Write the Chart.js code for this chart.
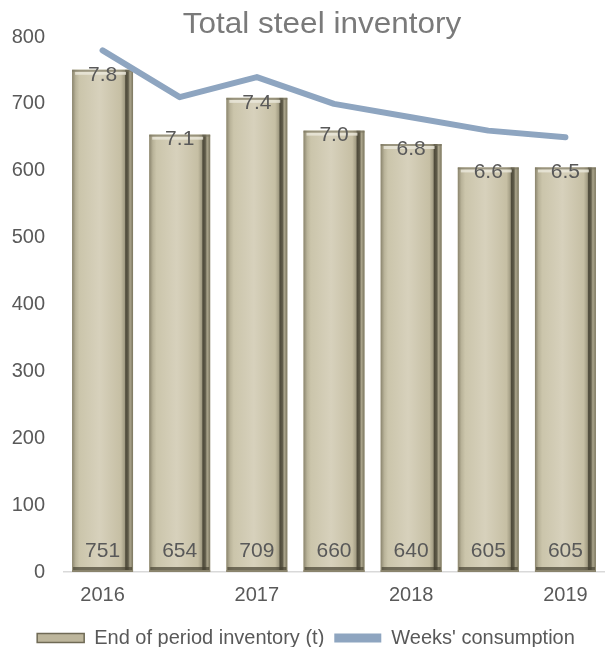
<!DOCTYPE html>
<html>
<head>
<meta charset="utf-8">
<script src="https://cdn.jsdelivr.net/npm/chart.js@4"></script>
<style>
  body { margin: 0; background: #fff; }
</style>
</head>
<body>
<canvas id="grafico" width="608" height="647"></canvas>
<script>
var periodos = ['2016 H1', '2016 H2', '2017 H1', '2017 H2', '2018 H1', '2018 H2', '2019 H1'];
var etiquetasX = ['2016', '', '2017', '', '2018', '', '2019'];
var inventario = [751, 654, 709, 660, 640, 605, 605];
var semanas = [7.8, 7.1, 7.4, 7.0, 6.8, 6.6, 6.5];

var fuente = '"Liberation Sans", Arial, sans-serif';

// bevel look for the bars (drawn right after the bar dataset, under the line)
var plugBarras = {
    id: 'plugBarras',
    afterDatasetDraw: function(chart, args) {
        if (args.index !== 1) return;
        var ctx = chart.ctx;
        var barras = args.meta.data;
        ctx.save();
        for (var i = 0; i < barras.length; i++) {
            var b = barras[i];
            var x0 = b.x - b.width / 2, x1 = b.x + b.width / 2;
            var y0 = b.y, y1 = b.base, h = y1 - y0;
            var g = ctx.createLinearGradient(x0, 0, x1, 0);
            g.addColorStop(0, '#8a846d');
            g.addColorStop(0.06, '#b9b399');
            g.addColorStop(0.12, '#cbc5ab');
            g.addColorStop(0.45, '#d7d1bc');
            g.addColorStop(0.8, '#c6bfa4');
            g.addColorStop(0.86, '#a39d84');
            g.addColorStop(0.88, '#4e4a3a');
            g.addColorStop(0.92, '#5f5b49');
            g.addColorStop(0.95, '#aba58c');
            g.addColorStop(1, '#7b765f');
            ctx.fillStyle = g;
            ctx.fillRect(x0, y0, b.width, h);
            // top bevel
            ctx.fillStyle = 'rgba(235,232,220,0.8)';
            ctx.fillRect(x0 + 3, y0 + 2, b.width - 10, 3);
            ctx.fillStyle = 'rgba(120,115,95,0.6)';
            ctx.fillRect(x0, y0, b.width, 2);
            // bottom bevel
            ctx.fillStyle = 'rgba(70,66,50,0.7)';
            ctx.fillRect(x0 + 1, y1 - 5, b.width - 2, 3);
            ctx.fillStyle = '#8a846d';
            ctx.fillRect(x0, y1 - 2, b.width, 2);
        }
        ctx.restore();
    },
    afterDatasetsDraw: function(chart) {
        var ctx = chart.ctx;
        var barras = chart.getDatasetMeta(1).data;
        ctx.save();
        ctx.fillStyle = '#595959';
        ctx.font = '21px ' + fuente;
        ctx.textAlign = 'center';
        ctx.textBaseline = 'middle';
        for (var i = 0; i < barras.length; i++) {
            var b = barras[i];
            ctx.fillText(inventario[i], b.x, b.base - 21);
            ctx.fillText(semanas[i].toFixed(1), b.x, b.y + 5);
        }
        // title
        ctx.fillStyle = '#7a7a7a';
        ctx.font = '30px ' + fuente;
        ctx.translate(322, 25);
        ctx.scale(1.05, 1);
        ctx.fillText('Total steel inventory', 0, 0);
        ctx.restore();
    }
};

var ctx = document.getElementById('grafico');
var myChart = new Chart(ctx, {
    type: 'bar',
    data: {
        labels: periodos,
        datasets: [{
            type: 'line',
            label: "Weeks' consumption",
            data: semanas,
            yAxisID: 'y2',
            borderColor: '#8ea5c0',
            backgroundColor: '#8ea5c0',
            borderWidth: 6,
            borderCapStyle: 'round',
            borderJoinStyle: 'round',
            pointRadius: 0,
            tension: 0,
            order: 0
        }, {
            label: 'End of period inventory (t)',
            data: inventario,
            yAxisID: 'y',
            backgroundColor: '#cfc9b0',
            borderColor: '#8a8570',
            borderWidth: 0,
            categoryPercentage: 1,
            barPercentage: 0.79,
            order: 1
        }]
    },
    options: {
        responsive: false,
        animation: false,
        layout: { padding: { top: 37, left: 8, right: 4, bottom: -11 } },
        scales: {
            x: {
                grid: { display: false, drawTicks: false },
                border: { color: '#d9d9d9', width: 1.5 },
                ticks: {
                    padding: 11,
                    color: '#595959',
                    font: { size: 20, family: fuente },
                    maxRotation: 0,
                    autoSkip: false,
                    callback: function(v, i) { return etiquetasX[i]; }
                },
                afterFit: function(s) { s.height = 46; }
            },
            y: {
                min: 0,
                max: 800,
                grid: { display: false, drawTicks: false },
                border: { display: false },
                ticks: {
                    stepSize: 100,
                    padding: 19,
                    color: '#595959',
                    font: { size: 20, family: fuente }
                },
                afterFit: function(s) { s.width = 56; }
            },
            y2: {
                display: false,
                min: 0,
                max: 8
            }
        },
        plugins: {
            title: { display: false },
            tooltip: { enabled: false },
            legend: {
                position: 'bottom',
                reverse: true,
                labels: {
                    boxWidth: 47,
                    boxHeight: 9,
                    padding: 10,
                    color: '#595959',
                    font: { size: 20, family: fuente },
                    generateLabels: function(chart) {
                        var items = Chart.defaults.plugins.legend.labels.generateLabels(chart);
                        items.forEach(function(it) {
                            if (it.datasetIndex === 1) {
                                it.fillStyle = '#bdb69c';
                                it.strokeStyle = '#6f6a55';
                                it.lineWidth = 1.5;
                            } else {
                                it.lineWidth = 0;
                            }
                        });
                        return items;
                    }
                }
            }
        }
    },
    plugins: [plugBarras]
});
</script>
</body>
</html>
